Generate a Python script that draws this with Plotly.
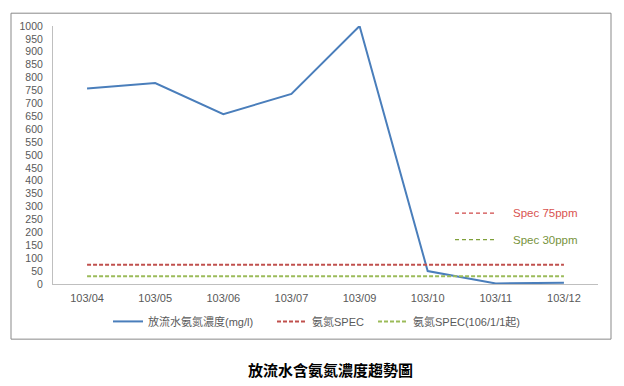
import plotly.graph_objects as go

months = ["103/04", "103/05", "103/06", "103/07", "103/09", "103/10", "103/11", "103/12"]
nh3_conc = [758, 779, 658, 737, 1000, 50, 2, 5]
spec_75 = [75] * len(months)
spec_30 = [30] * len(months)
y_ticks = list(range(0, 1001, 50))

FONT = "Liberation Sans, 'Noto Sans CJK TC', sans-serif"
OFF = 8  # page body margin
FW, FH = 616, 378
L, R, T, B = 53 - OFF, 598 - OFF, 22 - OFF, 284 - OFF
W, H = R - L, B - T

def px(x):  # page pixel -> paper x
    return (x - OFF - L) / W

def py(y):  # page pixel -> paper y
    return (B - (y - OFF)) / H

fig = go.Figure()
fig.add_trace(go.Scatter(x=months, y=nh3_conc, mode="lines", name="放流水氨氮濃度(mg/l)",
                         line=dict(color="#4A7EBB", width=2), legend="legend"))
fig.add_trace(go.Scatter(x=months, y=spec_75, mode="lines", name="氨氮SPEC",
                         line=dict(color="#C0504D", width=2, dash="4px,2px"), legend="legend2"))
fig.add_trace(go.Scatter(x=months, y=spec_30, mode="lines", name="氨氮SPEC(106/1/1起)",
                         line=dict(color="#9BBB59", width=2, dash="4px,2px"), legend="legend3"))

shapes = [
    dict(type="rect", xref="paper", yref="paper", x0=px(11), x1=px(611), y0=py(340), y1=py(9),
         line=dict(color="#898989", width=1), fillcolor="rgba(0,0,0,0)", layer="below"),
    dict(type="line", xref="paper", yref="paper", x0=px(455), x1=px(497), y0=py(212), y1=py(212),
         line=dict(color="#D04A4A", width=1.3, dash="4px,3px")),
    dict(type="line", xref="paper", yref="paper", x0=px(455), x1=px(497), y0=py(239), y1=py(239),
         line=dict(color="#7FA03A", width=1.3, dash="4px,3px")),
]
annotations = [
    dict(xref="paper", yref="paper", x=px(511), y=py(212), text="Spec 75ppm", showarrow=False,
         xanchor="left", yanchor="middle", font=dict(color="#D9534F", size=11.5, family=FONT)),
    dict(xref="paper", yref="paper", x=px(511), y=py(239), text="Spec 30ppm", showarrow=False,
         xanchor="left", yanchor="middle", font=dict(color="#77933C", size=11.5, family=FONT)),
    dict(xref="paper", yref="paper", x=px(330), y=py(372), text="<b>放流水含氨氮濃度趨勢圖</b>", showarrow=False,
         xanchor="center", yanchor="middle", font=dict(color="#000000", size=15, family=FONT)),
]

def leg(xpage):
    return dict(orientation="h", x=(xpage - OFF - L) / W, y=py(322), xanchor="left", yanchor="middle",
                font=dict(size=11, color="#595959", family=FONT), bgcolor="rgba(0,0,0,0)",
                itemwidth=30)

fig.update_layout(
    width=FW, height=FH,
    margin=dict(l=L, r=FW - R, t=T, b=FH - B, pad=0),
    paper_bgcolor="white", plot_bgcolor="white",
    font=dict(family=FONT, size=10, color="#595959"),
    shapes=shapes, annotations=annotations,
    showlegend=True,
    legend=leg(108), legend2=leg(272), legend3=leg(373),
    xaxis=dict(type="category", categoryorder="array", categoryarray=months, range=[-0.5, 7.5],
               showgrid=False, showline=True, linecolor="#BFBFBF", linewidth=1, ticks="",
               tickfont=dict(size=11, color="#595959"), zeroline=False, fixedrange=True,
               ticklabelstandoff=4),
    yaxis=dict(range=[0, 1000], tickvals=y_ticks, showgrid=False, showline=True,
               linecolor="#BFBFBF", linewidth=1, ticks="", tickfont=dict(size=10.5, color="#595959"),
               zeroline=False, fixedrange=True, ticklabelstandoff=7),
)

fig.write_html("out.html")
